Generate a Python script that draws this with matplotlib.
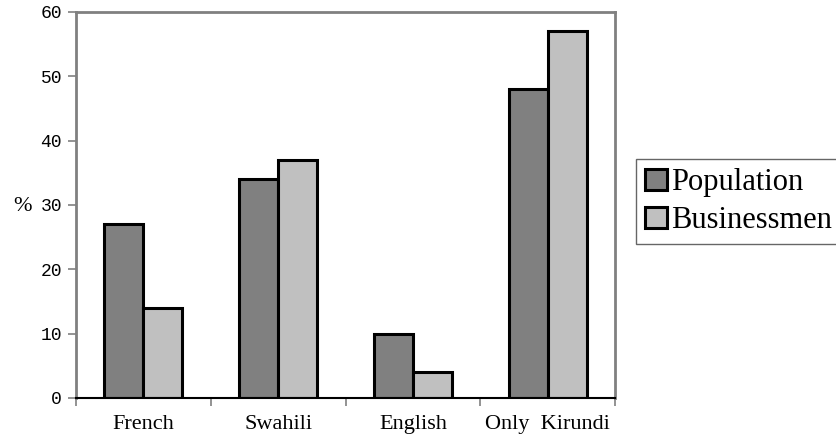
import matplotlib.pyplot as plt
import numpy as np

categories = ['French', 'Swahili', 'English', 'Only  Kirundi']
population = [27, 34, 10, 48]
businessmen = [14, 37, 4, 57]

fig = plt.figure(figsize=(8.36, 4.48), dpi=100)
ax = fig.add_axes([76/836, 1 - 398/448, (615-76)/836, (398-12)/448])

x = np.arange(len(categories))
w = 0.29
ax.bar(x - w/2, population, w, color='#808080', edgecolor='black', linewidth=2.2, label='Population')
ax.bar(x + w/2, businessmen, w, color='#c0c0c0', edgecolor='black', linewidth=2.2, label='Businessmen')

ax.set_xlim(-0.5, 3.5)
ax.set_ylim(0, 60)
ax.set_yticks(range(0, 61, 10))
ax.set_yticklabels([str(v) for v in range(0, 61, 10)], family='Liberation Mono', fontsize=13)
ax.tick_params(axis='y', direction='out', length=6, width=1.2, color='#808080', pad=4)

ax.set_xticks(x)
ax.set_xticklabels(categories, family='Liberation Serif', fontsize=16)
ax.tick_params(axis='x', which='major', length=0, pad=12)
ax.set_xticks(np.arange(-0.5, 3.6, 1), minor=True)
ax.tick_params(axis='x', which='minor', direction='out', length=6, width=1.2, color='#808080')

for s in ['left', 'top', 'right']:
    ax.spines[s].set_color('#808080')
    ax.spines[s].set_linewidth(2)
ax.spines['bottom'].set_color('black')
ax.spines['bottom'].set_linewidth(1.5)

fig.text(13/836, 1 - 206/448, '%', family='Liberation Serif', fontsize=16, va='center', ha='left')

leg = fig.legend(loc='upper left', bbox_to_anchor=(636/836, 1 - 159/448), prop={'family': 'Liberation Serif', 'size': 22},
                 frameon=True, fancybox=False, edgecolor='#404040', handlelength=0.7, handleheight=0.7,
                 handletextpad=0.15, borderpad=0.3, labelspacing=0.3, borderaxespad=0)
leg.get_frame().set_linewidth(1)

fig.savefig('out.png', dpi=100)
